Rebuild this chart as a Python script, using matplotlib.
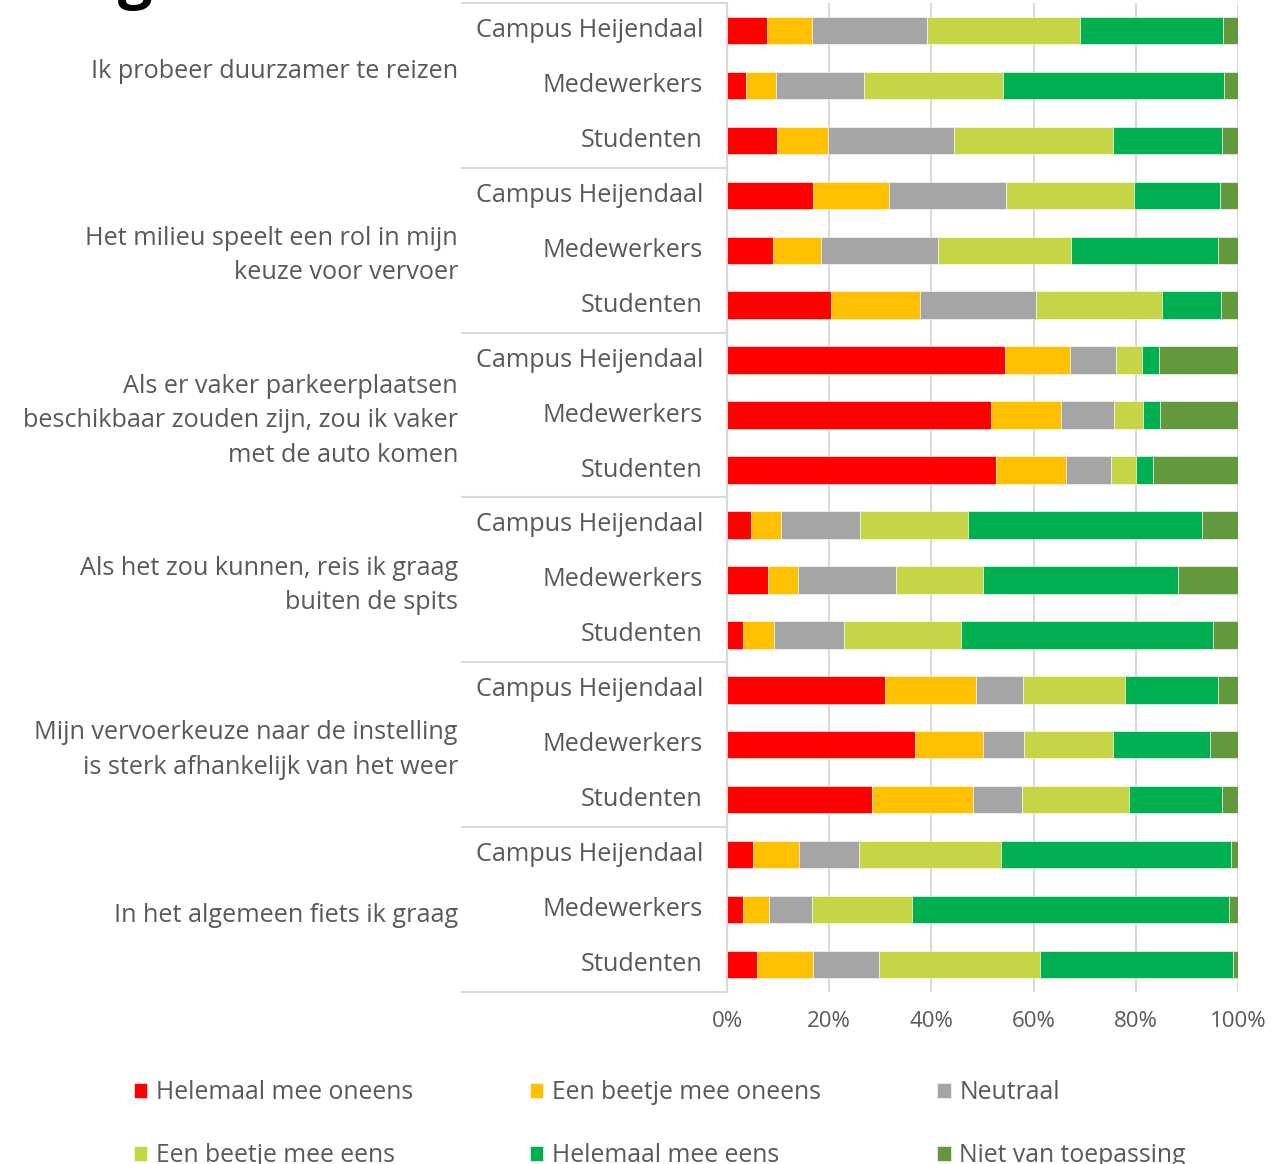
import matplotlib
matplotlib.use("Agg")
import matplotlib.pyplot as plt
from matplotlib import transforms
from matplotlib.ticker import FuncFormatter

plt.rcParams['font.family'] = ['Open Sans', 'DejaVu Sans']

# statements (each has three respondent groups)
statements = [
    "Ik probeer duurzamer te reizen",
    "Het milieu speelt een rol in mijn\nkeuze voor vervoer",
    "Als er vaker parkeerplaatsen\nbeschikbaar zouden zijn, zou ik vaker\nmet de auto komen",
    "Als het zou kunnen, reis ik graag\nbuiten de spits",
    "Mijn vervoerkeuze naar de instelling\nis sterk afhankelijk van het weer",
    "In het algemeen fiets ik graag",
]
respondents = ["Campus Heijendaal", "Medewerkers", "Studenten"]

# shares in %, one value per bar (top to bottom)
helemaal_oneens = [7.8, 3.7, 9.7, 16.8, 9.0, 20.4, 54.4, 51.6, 52.7,
                   4.7, 8.0, 3.1, 30.9, 36.8, 28.3, 5.1, 3.2, 5.9]
beetje_oneens = [8.8, 5.8, 10.0, 15.0, 9.3, 17.4, 12.7, 13.8, 13.6,
                 5.9, 5.9, 6.1, 17.9, 13.3, 19.9, 9.0, 5.1, 10.9]
neutraal = [22.5, 17.4, 24.7, 22.8, 23.0, 22.7, 9.0, 10.3, 8.9,
            15.4, 19.2, 13.7, 9.2, 8.0, 9.6, 11.7, 8.3, 12.9]
beetje_eens = [29.9, 27.1, 31.2, 25.0, 26.1, 24.6, 5.2, 5.7, 4.9,
               21.1, 16.9, 22.9, 19.8, 17.5, 20.9, 27.8, 19.7, 31.5]
helemaal_eens = [28.0, 43.3, 21.2, 16.9, 28.7, 11.6, 3.3, 3.3, 3.3,
                 45.9, 38.3, 49.3, 18.3, 18.9, 18.1, 45.1, 61.9, 37.8]
niet_van_toepassing = [3.0, 2.7, 3.2, 3.5, 3.9, 3.3, 15.4, 15.3, 16.6,
                       7.0, 11.7, 4.9, 3.9, 5.5, 3.2, 1.3, 1.8, 1.0]

series_names = ["Helemaal mee oneens", "Een beetje mee oneens", "Neutraal",
                "Een beetje mee eens", "Helemaal mee eens", "Niet van toepassing"]
series_values = [helemaal_oneens, beetje_oneens, neutraal,
                 beetje_eens, helemaal_eens, niet_van_toepassing]
colors = ["#FF0000", "#FFC000", "#A5A5A5", "#C6D545", "#00B050", "#63993D"]

text_color = "#595959"
grid_color = "#D9D9D9"

W, H = 1273, 1164
fig = plt.figure(figsize=(W / 100, H / 100), dpi=100)
ax = fig.add_axes([727 / W, 1 - 992 / H, 511 / W, 989 / H])

n = len(helemaal_oneens)
ypos = list(range(n))

# stacked horizontal bars
left = [0.0] * n
handles = []
for name, vals, c in zip(series_names, series_values, colors):
    b = ax.barh(ypos, vals, left=left, height=0.5, color=c, label=name,
                edgecolor="white", linewidth=0.4, zorder=3)
    handles.append(b)
    left = [l + v for l, v in zip(left, vals)]

ax.set_xlim(0, 100)
ax.set_ylim(n - 0.5, -0.5)
ax.set_xticks([0, 20, 40, 60, 80, 100])
ax.xaxis.set_major_formatter(FuncFormatter(lambda v, p: f"{v:.0f}%"))
ax.tick_params(axis="x", length=0, pad=14, labelsize=16, labelcolor=text_color)
ax.set_yticks([])
ax.grid(axis="x", color=grid_color, linewidth=1.5, zorder=0)
for s in ["top", "right", "bottom"]:
    ax.spines[s].set_visible(False)
ax.spines["left"].set_color(grid_color)
ax.spines["left"].set_linewidth(1.5)

# multi-level category axis
trans = transforms.blended_transform_factory(ax.transAxes, ax.transData)
x_sep = (462 - 727) / 511
for k in range(len(statements) + 1):
    yb = k * 3 - 0.5
    ax.plot([x_sep, 0], [yb, yb], transform=trans, color=grid_color,
            linewidth=1.5, clip_on=False)

for i in range(n):
    ax.text((703 - 727) / 511, i, respondents[i % 3], transform=trans,
            ha="right", va="center", fontsize=18.2, color=text_color)

for g, label in enumerate(statements):
    yc = g * 3 + 1 + 0.1
    if g == 0:
        yc = g * 3 + 0.75
    ax.text((458 - 727) / 511, yc, label, transform=trans, ha="right",
            va="center", multialignment="right", fontsize=18.2,
            color=text_color, linespacing=1.5)

# remains of a cropped title at the very top
fig.text(118 / W, 1 + 4 / H, "g", fontsize=44, fontweight="bold",
         color="black", va="baseline", ha="left")

# legend, filled row by row
order = [0, 3, 1, 4, 2, 5]
fig.legend([handles[i] for i in order], [series_names[i] for i in order],
           ncol=3, loc="upper left", bbox_to_anchor=(124 / W, 1 - 1070 / H),
           frameon=False, fontsize=17.8, labelcolor=text_color,
           handlelength=0.55, handleheight=0.55, handletextpad=0.35,
           columnspacing=4.7, labelspacing=1.55, borderaxespad=0)

fig.savefig("out.png", dpi=100)
